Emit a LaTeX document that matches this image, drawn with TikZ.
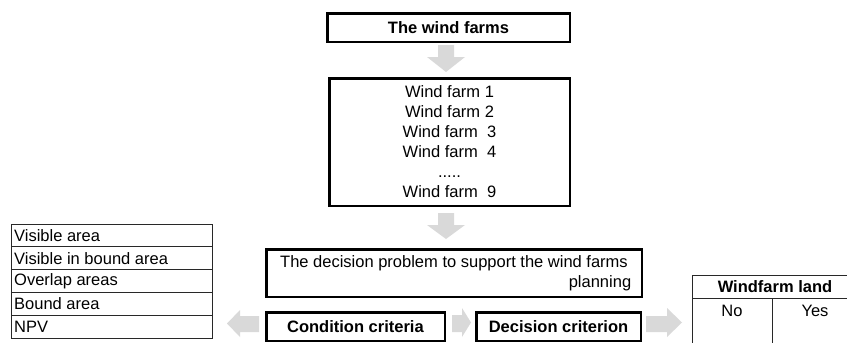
\documentclass[tikz,border=0pt]{standalone}
\usepackage{fontspec}
\setmainfont{Liberation Sans}
\definecolor{arrowgray}{RGB}{217,217,217}
\definecolor{linegray}{RGB}{40,40,40}
\begin{document}
\begin{tikzpicture}[x=1pt,y=-1pt,
  font=\fontsize{16.5}{20}\selectfont,
  box/.style={draw=black, line width=2.5pt, inner sep=0pt, align=center},
  garrow/.style={fill=arrowgray, draw=none},
  tline/.style={line width=0.9pt, draw=linegray},
  celltext/.style={inner sep=0pt, anchor=west}]
\useasboundingbox (0,0) rectangle (847,343);

% main boxes
\node[box, minimum width=242.5pt, minimum height=28.5pt] (top) at (448.5,27.5) {\textbf{The wind farms}};
\node[box, minimum width=240.5pt, minimum height=127.5pt] (list) at (449.5,142)
  {Wind farm 1\\Wind farm 2\\Wind farm\ \ 3\\Wind farm\ \ 4\\.....\\Wind farm\ \ 9};
\node[box, minimum width=375.5pt, minimum height=47.5pt] (dp) at (454,273)
  {The decision problem to support the wind farms\\\hspace*{292pt}planning};
\node[box, minimum width=178.5pt, minimum height=28.5pt] (cond) at (355.5,326.5) {\textbf{Condition criteria}};
\node[box, minimum width=164.5pt, minimum height=28.5pt] (dec) at (558.5,326.5) {\textbf{Decision criterion}};

% block arrows
\fill[garrow] (438,45) -- (454,45) -- (454,57) -- (465,57) -- (446,72) -- (427,57) -- (438,57) -- cycle;
\fill[garrow] (438,213) -- (454,213) -- (454,225) -- (465,225) -- (446,239) -- (427,225) -- (438,225) -- cycle;
\fill[garrow] (259,316) -- (240,316) -- (240,310) -- (227,323.5) -- (240,337) -- (240,332) -- (259,332) -- cycle;
\fill[garrow] (452,315) -- (462,315) -- (462,308) -- (471,322.5) -- (462,337) -- (462,332) -- (452,332) -- cycle;
\fill[garrow] (646,316) -- (667,316) -- (667,308) -- (682,322.5) -- (667,337) -- (667,332) -- (646,332) -- cycle;

% left table
\draw[tline] (11,224) rectangle (212,338);
\foreach \yy in {246.8,269.6,292.4,315.2} \draw[tline] (11,\yy) -- (212,\yy);
\node[celltext] (c1) at (14,235.4) {Visible area};
\node[celltext] (c2) at (14,258.2) {Visible in bound area};
\node[celltext] (c3) at (14,281) {Overlap areas};
\node[celltext] (c4) at (14,303.8) {Bound area};
\node[celltext] (c5) at (14,326.6) {NPV};

% right table
\draw[tline] (692,275) -- (858,275);
\draw[tline] (692,298) -- (858,298);
\draw[tline] (692,275) -- (692,345);
\draw[tline] (772,298) -- (772,345);
\node[inner sep=0pt] (wl) at (775,286.5) {\textbf{Windfarm land}};
\node[inner sep=0pt] (no) at (732,311) {No};
\node[inner sep=0pt] (yes) at (815,311) {Yes};
\end{tikzpicture}
\end{document}
